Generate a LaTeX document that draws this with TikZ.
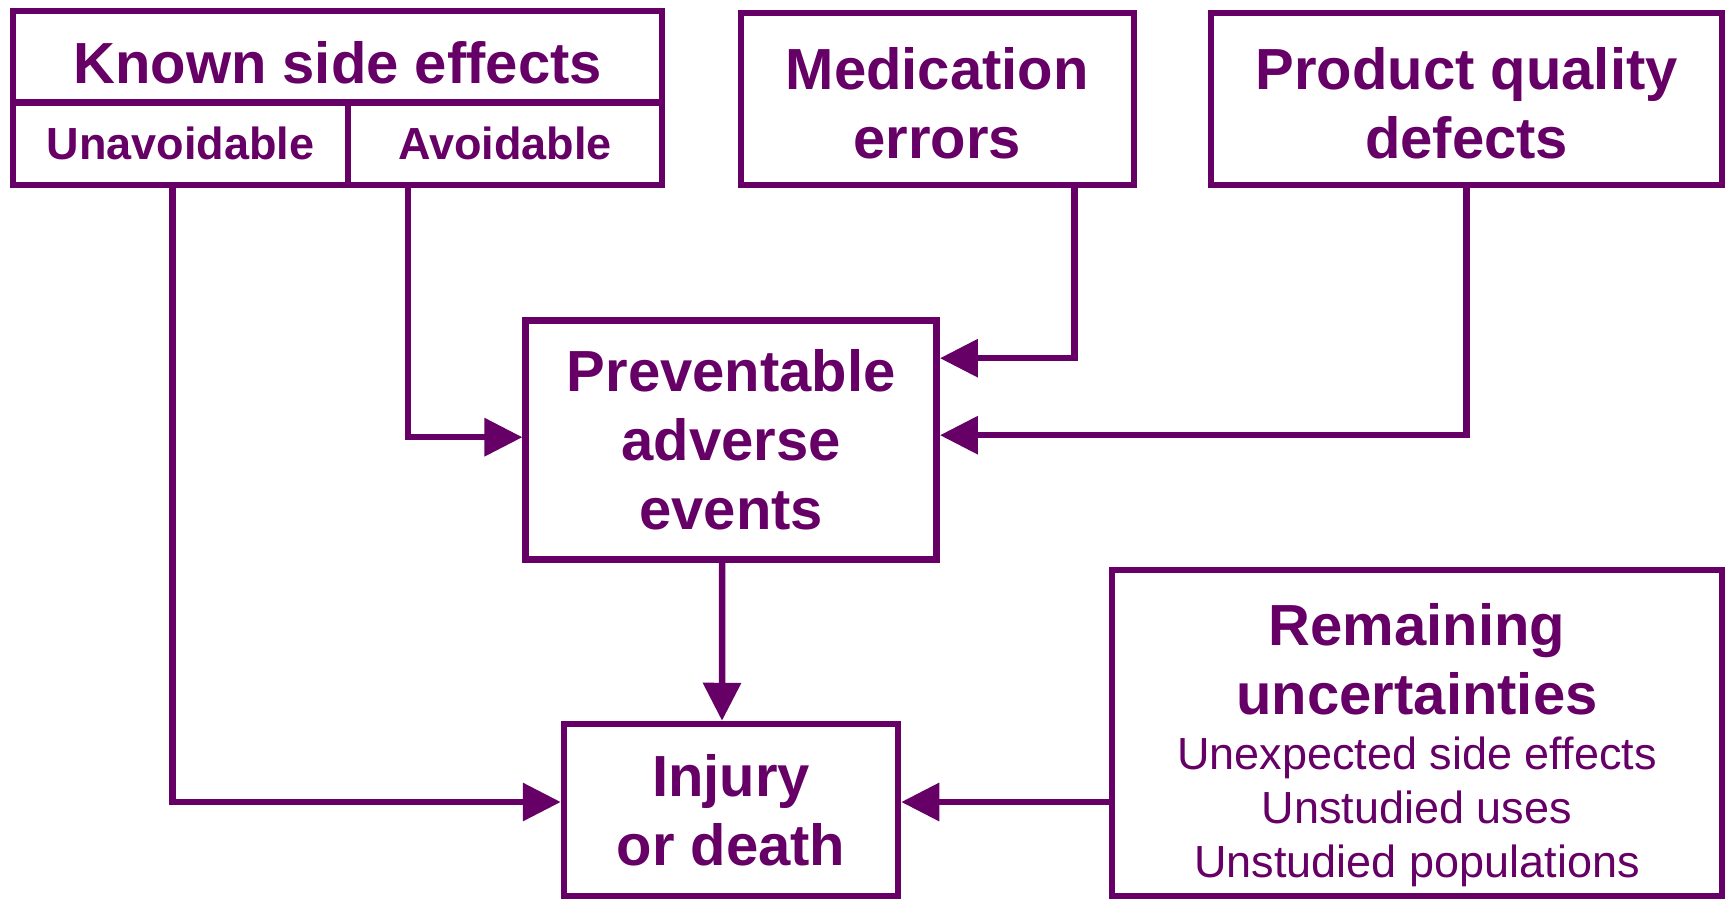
\documentclass[tikz,border=0pt]{standalone}
\usepackage{fontspec}
\setmainfont{Liberation Sans}
\usetikzlibrary{arrows.meta}
\definecolor{plum}{RGB}{102,0,102}
\newcommand\plainline{\mdseries\fontsize{45}{54}\selectfont}
\tikzset{
  box/.style={draw=plum,line width=6.5pt,text=plum,inner sep=0pt,align=center,
    font=\bfseries\fontsize{58}{69}\selectfont},
  cell/.style={box,font=\bfseries\fontsize{45}{54}\selectfont},
  flow/.style={draw=plum,line width=6.5pt,-{Triangle[length=38pt,width=37pt]}}
}
\begin{document}
\begin{tikzpicture}[x=1pt,y=-1pt]
\useasboundingbox[fill=white] (0,0) rectangle (1728,899);
% sources
\node[box,minimum width=649pt,minimum height=91.5pt,text height=54pt,text depth=0pt] (known) at (337.6,56.8) {Known side effects};
\node[cell,minimum width=335pt,minimum height=82.5pt] (unavoid) at (180.5,143.8) {Unavoidable};
\node[cell,minimum width=314pt,minimum height=82.5pt] (avoid) at (505,143.8) {Avoidable};
\node[box,minimum width=393pt,minimum height=172pt] (med) at (937.3,99) {};
\node[box,draw=none] (medtext) at ([yshift=-4pt]med.center) {Medication\\errors};
\node[box,minimum width=511pt,minimum height=172pt] (prod) at (1466.7,99) {};
\node[box,draw=none] (prodtext) at ([yshift=-4pt]prod.center) {Product quality\\defects};
% middle and outcome
\node[box,minimum width=411pt,minimum height=239pt] (prev) at (731.2,440.2) {Preventable\\adverse\\events};
\node[box,minimum width=334pt,minimum height=172pt] (inj) at (731,810) {Injury\\or death};
\node[box,minimum width=610pt,minimum height=326pt] (rem) at (1417,733) {};
\node[box,draw=none] (remtext) at ([yshift=-12pt]rem.center)
  {Remaining\\uncertainties\\[-14pt]\plainline Unexpected side effects\\[-15pt]\plainline Unstudied uses\\[-15pt]\plainline Unstudied populations};
\coordinate (injin) at ([yshift=8pt]inj.east);
% connectors
\draw[flow] ([xshift=-8pt]unavoid.south) |- ([yshift=8pt]inj.west);
\draw[flow] ([xshift=-97pt]avoid.south) |- ([yshift=3pt]prev.west);
\draw[flow] ([xshift=137pt]med.south) |- ([yshift=82pt]prev.east);
\draw[flow] (prod.south) |- ([yshift=5pt]prev.east);
\draw[flow] ([xshift=-9pt]prev.south) -- ([xshift=-9pt]inj.north);
\draw[flow] (rem.west |- injin) -- (injin);
\end{tikzpicture}
\end{document}
